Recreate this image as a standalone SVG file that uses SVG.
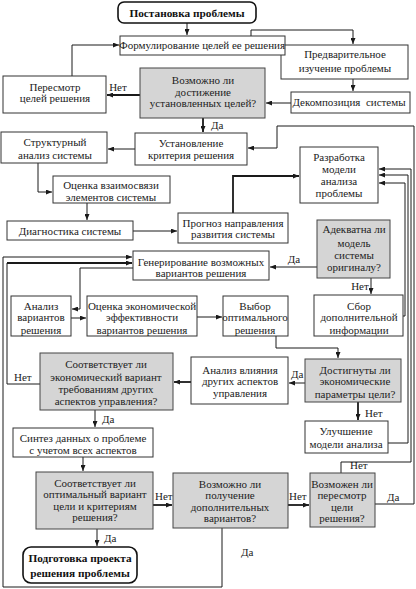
<svg xmlns="http://www.w3.org/2000/svg" width="416" height="589" viewBox="0 0 416 589">
<defs>
<marker id="a" markerWidth="6" markerHeight="5" refX="6" refY="2.5" orient="auto" markerUnits="userSpaceOnUse"><path d="M0,0 L6,2.5 L0,5 z" fill="#1a1a1a"/></marker>
</defs>
<style>
.b{fill:#fff;stroke:#333;stroke-width:1}
.d{fill:#d5d5d5;stroke:#444;stroke-width:1}
.r{fill:#fff;stroke:#111;stroke-width:1.6}
text{font-family:"Liberation Serif","Times New Roman",serif;font-size:11px;fill:#222;text-anchor:middle}
.bt{font-weight:bold;font-size:11.3px;fill:#111}
.l{text-anchor:start}
.c{fill:none;stroke:#1a1a1a;stroke-width:1}
.k{stroke-width:1.8}
</style>
<rect width="416" height="589" fill="#fff"/>
<g id="connectors">
<path class="c" d="M187,23V35" marker-end="url(#a)"/>
<path class="c" d="M251,36V30H353V44" marker-end="url(#a)"/>
<path class="c" d="M353,79V91" marker-end="url(#a)"/>
<path class="c" d="M291,103H266" marker-end="url(#a)"/>
<path class="c k" d="M140,95H107" marker-end="url(#a)"/>
<path class="c" d="M72,76V45H119" marker-end="url(#a)"/>
<path class="c k" d="M203,118V132" marker-end="url(#a)"/>
<path class="c" d="M135,149H108" marker-end="url(#a)"/>
<path class="c" d="M38,163V192H52" marker-end="url(#a)"/>
<path class="c" d="M87,203V220" marker-end="url(#a)"/>
<path class="c" d="M133,231H177" marker-end="url(#a)"/>
<path class="c k" d="M233,213V176H299" marker-end="url(#a)"/>
<path class="c" d="M317,267H270" marker-end="url(#a)"/>
<path class="c" d="M371,278V294" marker-end="url(#a)"/>
<path class="c" d="M133,268H80V309H72" marker-end="url(#a)"/>
<path class="c" d="M71,318H86" marker-end="url(#a)"/>
<path class="c" d="M197,317H222" marker-end="url(#a)"/>
<path class="c" d="M276,336V348H338V358" marker-end="url(#a)"/>
<path class="c" d="M305,383H289" marker-end="url(#a)"/>
<path class="c k" d="M358,402V420" marker-end="url(#a)"/>
<path class="c k" d="M191,382H174" marker-end="url(#a)"/>
<path class="c" d="M40,384H7V263"/>
<path class="c k" d="M7,263H132" marker-end="url(#a)"/>
<path class="c" d="M95,410V427" marker-end="url(#a)"/>
<path class="c" d="M83,457V471" marker-end="url(#a)"/>
<path class="c k" d="M153,505H172" marker-end="url(#a)"/>
<path class="c k" d="M288,505H309" marker-end="url(#a)"/>
<path class="c" d="M97,529V546" marker-end="url(#a)"/>
<path class="c" d="M222,528V587H3V257H132" marker-end="url(#a)"/>
<path class="c" d="M375,504H414V126H277V148H248" marker-end="url(#a)"/>
<path class="c" d="M341,473V462H411V169H379" marker-end="url(#a)"/>
<path class="c" d="M388,443H408V175H379" marker-end="url(#a)"/>
<path class="c" d="M403,316H405V183H379" marker-end="url(#a)"/>
<text x="118" y="91">Нет</text>
<text class="l" x="211" y="129">Да</text>
<text x="294" y="263">Да</text>
<text x="360" y="290">Нет</text>
<text class="l" x="291" y="378">Да</text>
<text class="l" x="365" y="417">Нет</text>
<text class="l" x="14" y="381">Нет</text>
<text class="l" x="102" y="423">Да</text>
<text class="l" x="155" y="500">Нет</text>
<text class="l" x="289" y="500">Нет</text>
<text class="l" x="104" y="542">Да</text>
<text class="l" x="241" y="556">Да</text>
<text class="l" x="387" y="501">Да</text>
<text class="l" x="350" y="469">Нет</text>
</g>
<g id="n1"><rect class="r" x="118" y="2" width="138" height="21" rx="6"/><text class="bt" x="187" y="17">Постановка проблемы</text></g>
<g id="n3"><rect class="b" x="281" y="45" width="127" height="34"/><text x="345" y="58">Предварительное</text><text x="345" y="72">изучение проблемы</text></g>
<g id="n2"><rect class="b" x="120" y="36" width="165" height="19"/><text x="202" y="49">Формулирование целей ее решения</text></g>
<g id="n5"><rect class="b" x="291" y="92" width="119" height="21"/><text x="349" y="106" xml:space="preserve">Декомпозиция  системы</text></g>
<g id="n4"><rect class="d" x="140" y="68" width="125" height="50"/><text x="203" y="84">Возможно ли</text><text x="203" y="96">достижение</text><text x="203" y="107">установленных целей?</text></g>
<g id="n6"><rect class="b" x="3" y="76" width="103" height="37"/><text x="55" y="91">Пересмотр</text><text x="55" y="102">целей решения</text></g>
<g id="n7"><rect class="b" x="135" y="133" width="112" height="32"/><text x="191" y="147">Установление</text><text x="191" y="159">критерия решения</text></g>
<g id="n8"><rect class="b" x="1" y="132" width="106" height="31"/><text x="55" y="146">Структурный</text><text x="55" y="159">анализ системы</text></g>
<g id="n9"><rect class="b" x="53" y="176" width="117" height="27"/><text x="111" y="189">Оценка взаимосвязи</text><text x="111" y="201">элементов системы</text></g>
<g id="n10"><rect class="b" x="7" y="221" width="126" height="19"/><text x="70" y="235">Диагностика системы</text></g>
<g id="n11"><rect class="b" x="178" y="213" width="110" height="30"/><text x="233" y="227">Прогноз направления</text><text x="233" y="238">развития системы</text></g>
<g id="n12"><rect class="b" x="300" y="147" width="78" height="56"/><text x="339" y="161">Разработка</text><text x="339" y="173">модели</text><text x="339" y="185">анализа</text><text x="339" y="197">проблемы</text></g>
<g id="n13"><rect class="d" x="317" y="220" width="73" height="58"/><text x="354" y="233">Адекватна ли</text><text x="354" y="247">модель</text><text x="354" y="259">системы</text><text x="354" y="271">оригиналу?</text></g>
<g id="n14"><rect class="b" x="133" y="251" width="136" height="29"/><text x="201" y="266">Генерирование возможных</text><text x="201" y="277">вариантов решения</text></g>
<g id="n15"><rect class="b" x="11" y="296" width="60" height="40"/><text x="41" y="310">Анализ</text><text x="41" y="321">вариантов</text><text x="41" y="334">решения</text></g>
<g id="n16"><rect class="b" x="87" y="296" width="110" height="40"/><text x="142" y="310">Оценка экономической</text><text x="142" y="321">эффективности</text><text x="142" y="334">вариантов решения</text></g>
<g id="n17"><rect class="b" x="223" y="296" width="65" height="40"/><text x="255" y="310">Выбор</text><text x="255" y="321">оптимального</text><text x="255" y="334">решения</text></g>
<g id="n18"><rect class="b" x="314" y="295" width="89" height="41"/><text x="359" y="310">Сбор</text><text x="359" y="321">дополнительной</text><text x="359" y="334">информации</text></g>
<g id="n19"><rect class="d" x="305" y="359" width="96" height="43"/><text x="355" y="374">Достигнуты ли</text><text x="355" y="385">экономические</text><text x="355" y="398">параметры цели?</text></g>
<g id="n20"><rect class="b" x="191" y="357" width="97" height="47"/><text x="240" y="374">Анализ влияния</text><text x="240" y="385">других аспектов</text><text x="240" y="397">управления</text></g>
<g id="n21"><rect class="b" x="305" y="421" width="83" height="32"/><text x="346" y="435">Улучшение</text><text x="346" y="448">модели анализа</text></g>
<g id="n22"><rect class="d" x="40" y="353" width="133" height="57"/><text x="106" y="368">Соответствует ли</text><text x="106" y="381">экономический вариант</text><text x="106" y="393">требованиям других</text><text x="106" y="405">аспектов управления?</text></g>
<g id="n23"><rect class="b" x="13" y="428" width="140" height="29"/><text x="83" y="442">Синтез данных о проблеме</text><text x="83" y="454">с учетом всех аспектов</text></g>
<g id="n24"><rect class="d" x="36" y="472" width="117" height="57"/><text x="95" y="487">Соответствует ли</text><text x="95" y="498">оптимальный вариант</text><text x="95" y="510">цели и критериям</text><text x="95" y="521">решения?</text></g>
<g id="n25"><rect class="d" x="173" y="473" width="115" height="55"/><text x="230" y="488">Возможно ли</text><text x="230" y="499">получение</text><text x="230" y="511">дополнительных</text><text x="230" y="522">вариантов?</text></g>
<g id="n26"><rect class="d" x="310" y="473" width="65" height="54"/><text x="342" y="488">Возможен ли</text><text x="342" y="499">пересмотр</text><text x="342" y="511">цели</text><text x="342" y="522">решения?</text></g>
<g id="n27"><rect class="r" x="23" y="547" width="114" height="36" rx="8"/><text class="bt" x="80" y="562">Подготовка проекта</text><text class="bt" x="80" y="577">решения проблемы</text></g>
</svg>
